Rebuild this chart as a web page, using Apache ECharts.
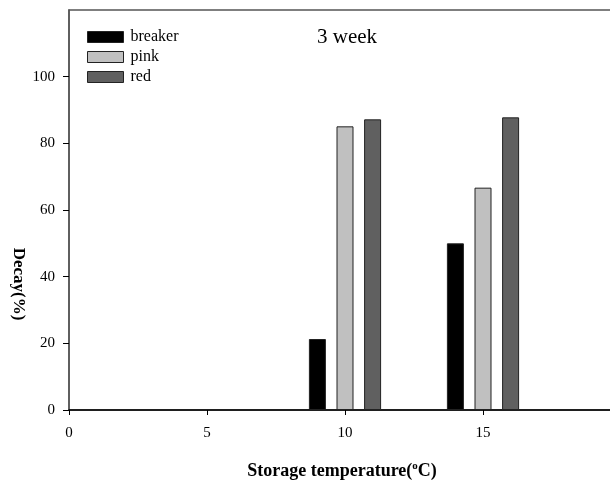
<!DOCTYPE html>
<html>
<head>
<meta charset="utf-8">
<style>
  html, body { margin: 0; padding: 0; background: #fff; }
  #chart { width: 610px; height: 486px; }
</style>
<script src="https://cdn.jsdelivr.net/npm/echarts@6/dist/echarts.min.js"></script>
</head>
<body>
<div id="chart"></div>
<script>
// Decay after 3 weeks of storage, by ripeness stage and storage temperature.
// Each stage is drawn beside its temperature: breaker at T-1, pink at T, red at T+1.
const temperatures = [10, 15];
const stageOffsets = [-1, 0, 1];
const stageNames = ['breaker', 'pink', 'red'];
const breakerDecay = [21.3, 50];
const pinkDecay = [85.1, 66.7];
const redDecay = [87.2, 87.8];
const yTickValues = [0, 20, 40, 60, 80, 100];
const xTickValues = [0, 5, 10, 15, 20];

const stageDecay = [breakerDecay, pinkDecay, redDecay];
const stageColors = ['#000000', '#c0c0c0', '#606060'];
const serif = '"Liberation Serif", "DejaVu Serif", serif';

const series = stageNames.map((name, i) => ({
  name: name,
  type: 'bar',
  barWidth: 17,
  barGap: '-100%',
  itemStyle: { color: stageColors[i], borderColor: '#222', borderWidth: 1 },
  data: temperatures.map((t, j) => [t + stageOffsets[i], stageDecay[i][j]])
}));

const chart = echarts.init(document.getElementById('chart'), null, { renderer: 'canvas' });
chart.setOption({
  animation: false,
  backgroundColor: '#ffffff',
  textStyle: { fontFamily: serif },
  grid: {
    left: 69, top: 10, width: 552, height: 400,
    outerBoundsMode: 'none',
    containLabel: false,
    show: true, borderColor: '#555', borderWidth: 1.5, backgroundColor: 'transparent'
  },
  title: {
    text: '3 week',
    left: 312, top: 22,
    textStyle: { fontFamily: serif, fontWeight: 'normal', fontSize: 21, color: '#000' }
  },
  legend: {
    orient: 'vertical',
    left: 82, top: 24,
    itemWidth: 36, itemHeight: 11, itemGap: 4,
    icon: 'rect',
    itemStyle: { borderWidth: 1, borderColor: '#222' },
    textStyle: { fontFamily: serif, fontSize: 16, color: '#000', padding: [0, 0, 0, 2] },
    data: stageNames
  },
  xAxis: {
    type: 'value',
    min: 0, max: 20, interval: 5,
    name: 'Storage temperature({sup|o}C)',
    nameLocation: 'middle',
    nameGap: 51,
    nameTextStyle: {
      fontFamily: serif, fontWeight: 'bold', fontSize: 18, color: '#000',
      padding: [0, 6, 0, 0],
      rich: { sup: { fontFamily: serif, fontWeight: 'bold', fontSize: 11, verticalAlign: 'top', padding: [0, 0, 9, 0] } }
    },
    splitLine: { show: false },
    axisLine: { onZero: false, lineStyle: { color: '#000', width: 1.5 } },
    axisTick: { show: true, length: 5, inside: false, lineStyle: { color: '#000' }, customValues: xTickValues },
    axisLabel: { fontFamily: serif, fontSize: 15, color: '#000', margin: 16, customValues: xTickValues }
  },
  yAxis: {
    type: 'value',
    min: 0, max: 120, interval: 20,
    splitLine: { show: false },
    axisLine: { show: true, lineStyle: { color: '#555', width: 1.5 } },
    axisTick: { show: true, length: 6, inside: false, lineStyle: { color: '#000' }, customValues: yTickValues },
    axisLabel: { fontFamily: serif, fontSize: 15, color: '#000', margin: 14, customValues: yTickValues }
  },
  graphic: [{
    type: 'text',
    x: 18, y: 284,
    rotation: -Math.PI / 2,
    style: {
      text: 'Decay(%)',
      font: 'bold 17px ' + serif,
      fill: '#000',
      textAlign: 'center',
      textVerticalAlign: 'middle'
    }
  }],
  series: series
});
</script>
</body>
</html>
